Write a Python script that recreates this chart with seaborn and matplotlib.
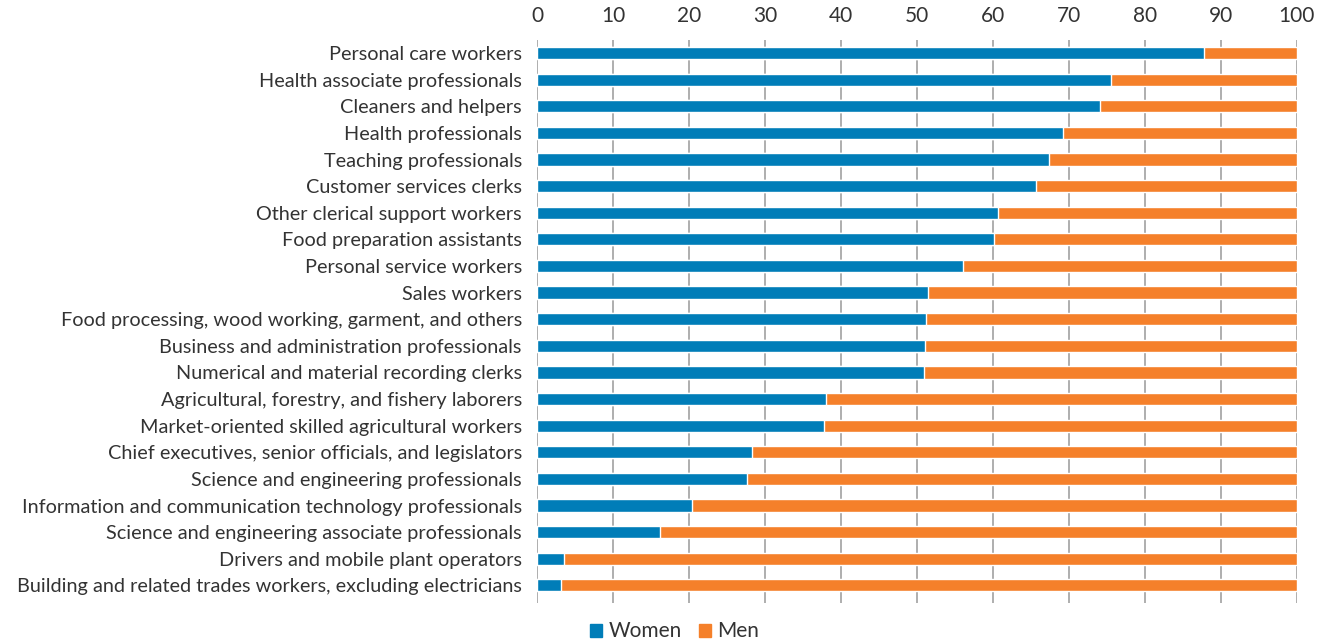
import pandas as pd
import matplotlib.pyplot as plt
import seaborn as sns
from matplotlib.patches import Patch

sns.set_style('white')
plt.rcParams['font.family'] = ['Lato', 'DejaVu Sans']

occupations = [
    'Personal care workers',
    'Health associate professionals',
    'Cleaners and helpers',
    'Health professionals',
    'Teaching professionals',
    'Customer services clerks',
    'Other clerical support workers',
    'Food preparation assistants',
    'Personal service workers',
    'Sales workers',
    'Food processing, wood working, garment, and others',
    'Business and administration professionals',
    'Numerical and material recording clerks',
    'Agricultural, forestry, and fishery laborers',
    'Market-oriented skilled agricultural workers',
    'Chief executives, senior officials, and legislators',
    'Science and engineering professionals',
    'Information and communication technology professionals',
    'Science and engineering associate professionals',
    'Drivers and mobile plant operators',
    'Building and related trades workers, excluding electricians',
]
women = [87.8, 75.6, 74.1, 69.2, 67.4, 65.7, 60.7, 60.2, 56.1, 51.5, 51.2,
         51.1, 51.0, 38.1, 37.8, 28.3, 27.6, 20.4, 16.2, 3.5, 3.2]
men = [12.2, 24.4, 25.9, 30.8, 32.6, 34.3, 39.3, 39.8, 43.9, 48.5, 48.8,
       48.9, 49.0, 61.9, 62.2, 71.7, 72.4, 79.6, 83.8, 96.5, 96.8]

blue = '#007DB8'
orange = '#F5802A'
text_color = '#333333'

df = pd.DataFrame({'Occupation': occupations, 'Women': women, 'Men': men})
df['Total'] = df['Women'] + df['Men']

fig = plt.figure(figsize=(13.28, 6.41), dpi=100)
ax = fig.add_axes([0.4044, 0.059, 0.5720, 0.879])

# stacked: full bar in orange, women on top in blue
sns.barplot(data=df, y='Occupation', x='Total', color=orange, width=0.46,
            saturation=1, ax=ax, zorder=2)
sns.barplot(data=df, y='Occupation', x='Women', color=blue, width=0.46,
            saturation=1, ax=ax, zorder=3)

ax.set_xlim(0, 100)
ax.set_ylim(20.67, -0.5)
ax.set_xticks(range(0, 101, 10))
ax.xaxis.tick_top()
ax.tick_params(axis='x', length=0, pad=10, labelsize=15, colors=text_color)
ax.tick_params(axis='y', length=0, pad=11, labelsize=14.3, colors=text_color)
ax.set_xlabel('')
ax.set_ylabel('')
ax.grid(axis='x', color='#999999', linewidth=1.1, zorder=0)
ax.grid(axis='y', visible=False)
for s in ax.spines.values():
    s.set_visible(False)

handles = [Patch(color=blue, label='Women'), Patch(color=orange, label='Men')]
fig.legend(handles=handles, loc='lower center', bbox_to_anchor=(0.508, -0.03),
           ncol=2, frameon=False, fontsize=15, handlelength=0.6,
           handleheight=0.6, handletextpad=0.3, columnspacing=0.8,
           labelcolor=text_color)

plt.savefig('out.png', dpi=100)
